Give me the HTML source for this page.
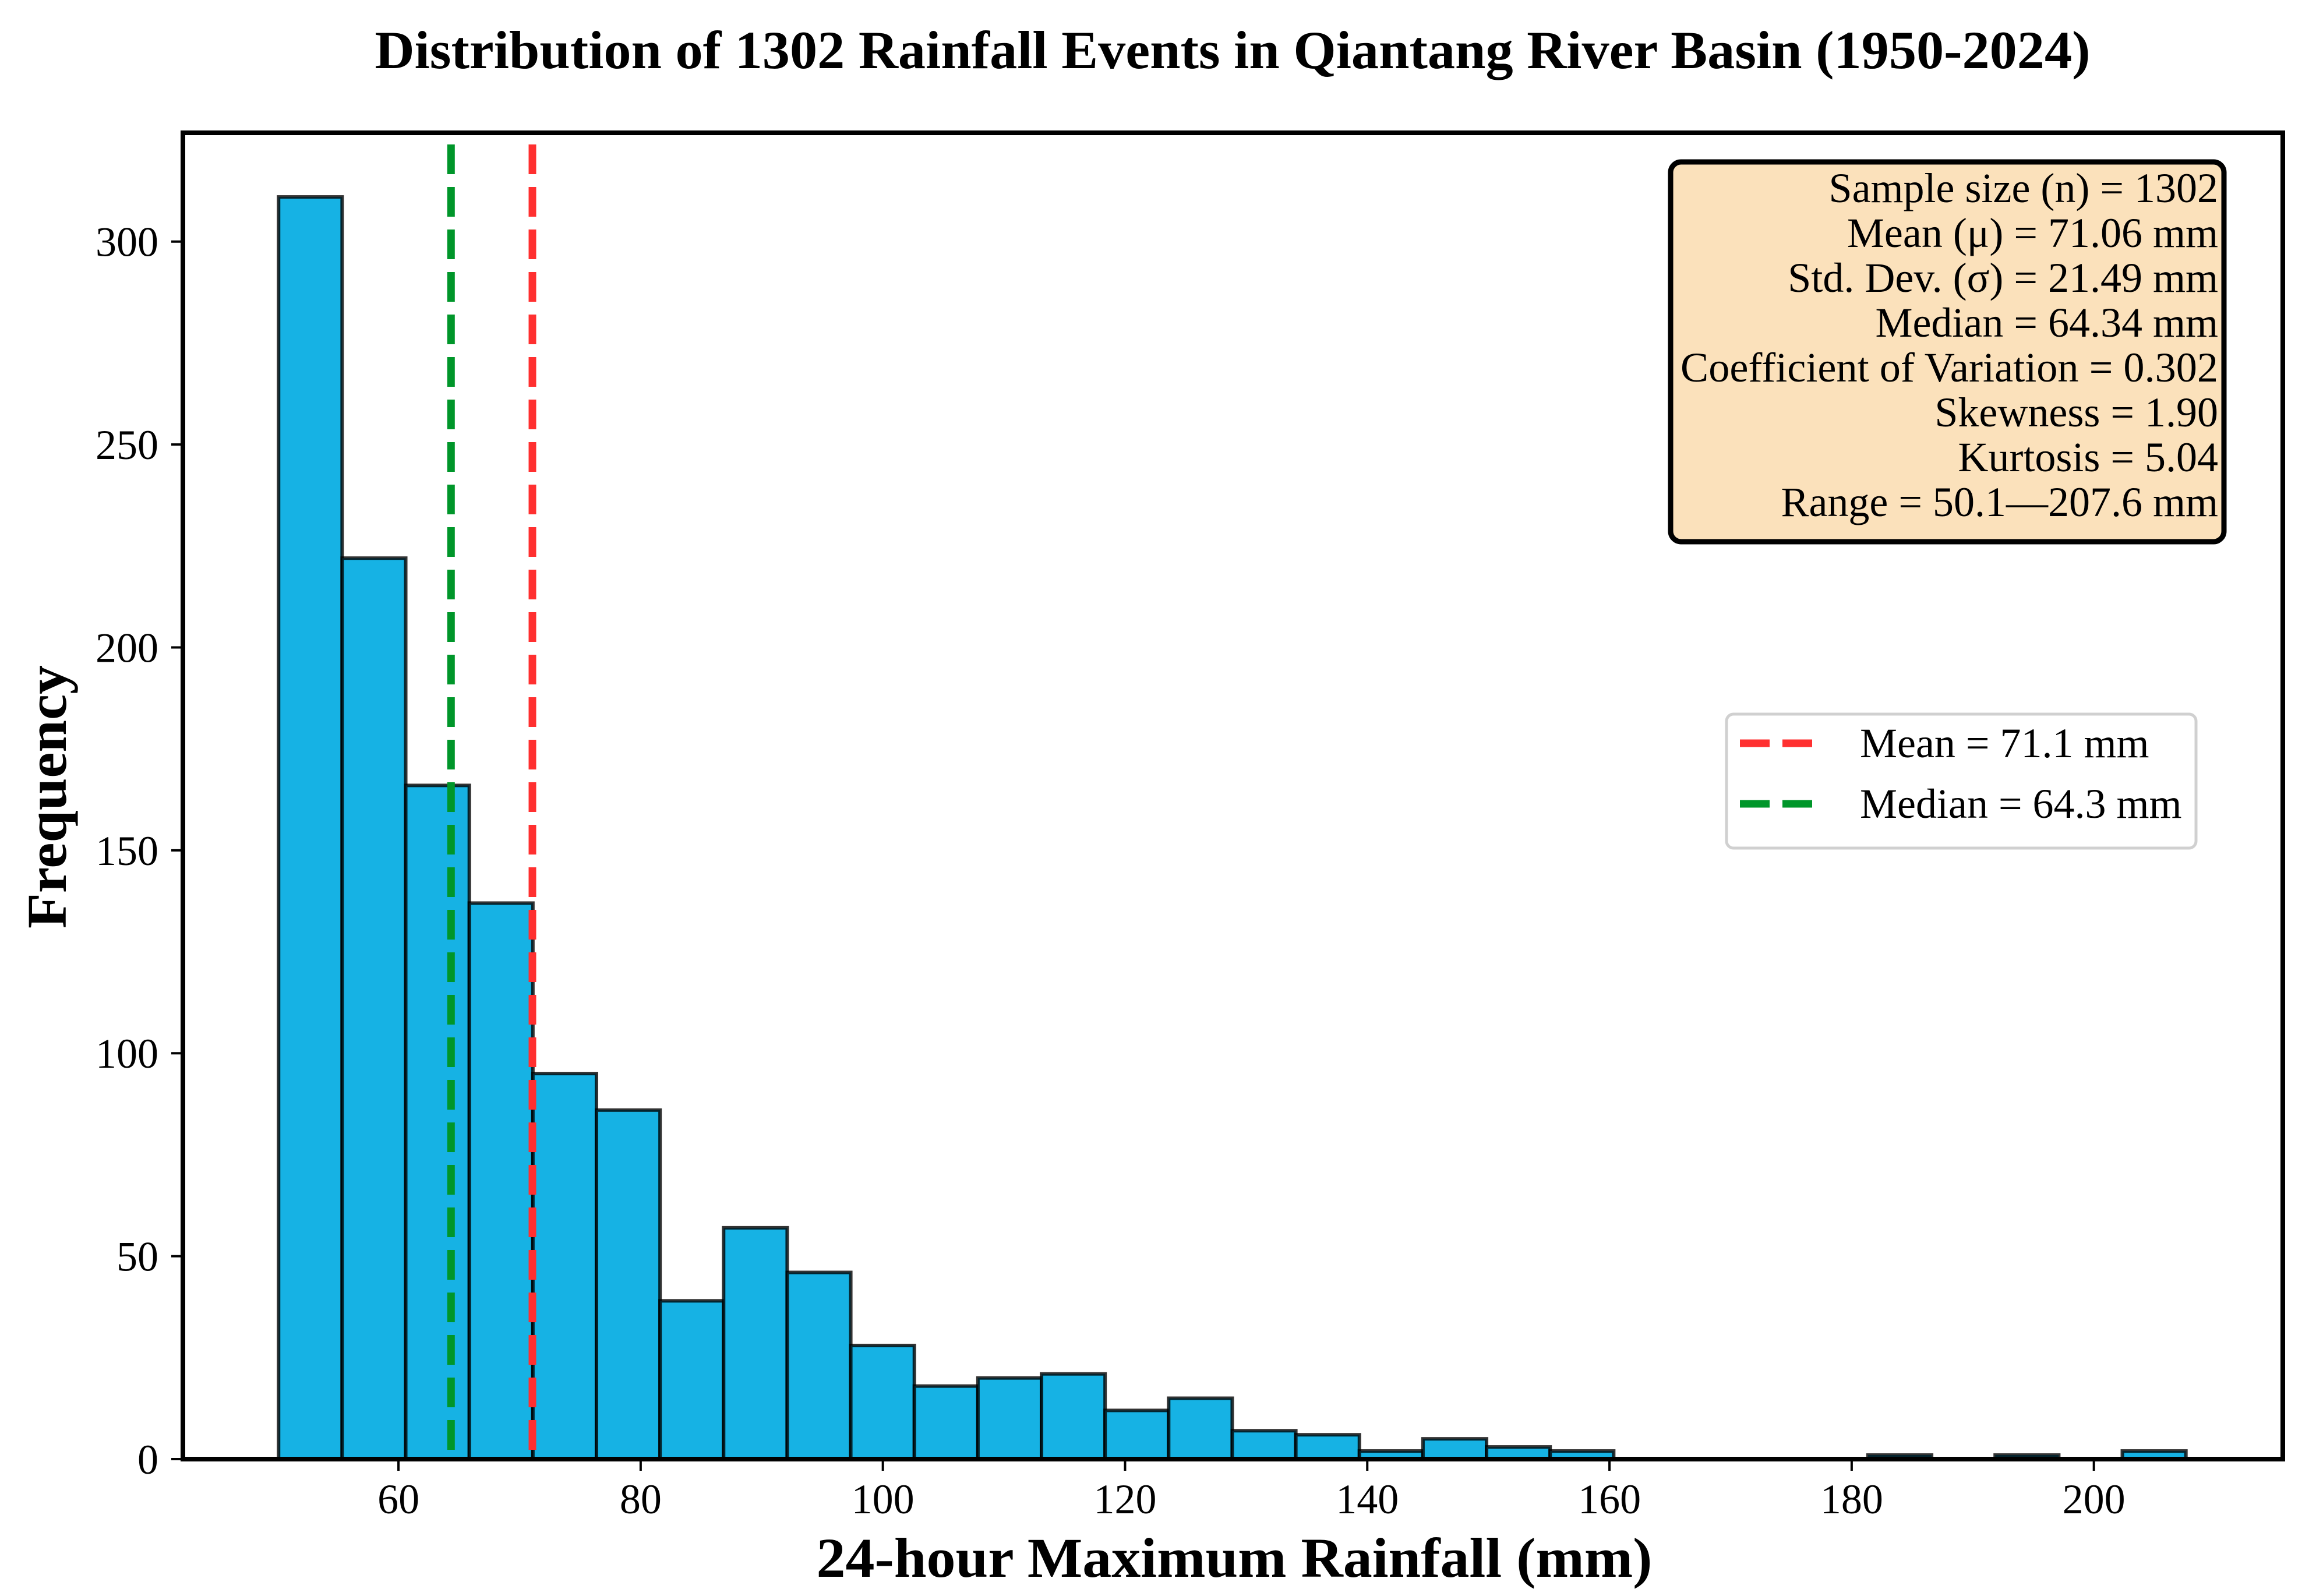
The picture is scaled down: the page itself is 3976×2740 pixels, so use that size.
<!DOCTYPE html>
<html><head><meta charset="utf-8"><style>
html,body{margin:0;padding:0;background:#fff}
svg{display:block}
text{font-family:"Liberation Serif",serif;fill:#000}
</style></head><body>
<svg id="chart" width="3976" height="2740" viewBox="0 0 3976 2740" xmlns="http://www.w3.org/2000/svg">
<rect width="3976" height="2740" fill="#fff"/>
<text x="2116" y="117" text-anchor="middle" font-size="92" font-weight="bold" textLength="2945" lengthAdjust="spacingAndGlyphs">Distribution of 1302 Rainfall Events in Qiantang River Basin (1950-2024)</text>
<g id="bars"></g>
<g id="vlines"></g>
<g id="axes"></g>
<text x="2119" y="2707" text-anchor="middle" font-size="96" font-weight="bold" textLength="1435" lengthAdjust="spacingAndGlyphs">24-hour Maximum Rainfall (mm)</text>
<text x="0" y="0" transform="translate(113,1368) rotate(-90)" text-anchor="middle" font-size="96" font-weight="bold" textLength="452" lengthAdjust="spacingAndGlyphs">Frequency</text>

<g>
<rect x="2868" y="278" width="950" height="652" rx="18" ry="18" fill="#fbe1bb" stroke="#000" stroke-width="9"/>
<g font-size="72" text-anchor="end">
<text x="3808" y="347">Sample size (n) = 1302</text>
<text x="3808" y="424">Mean (μ) = 71.06 mm</text>
<text x="3808" y="501">Std. Dev. (σ) = 21.49 mm</text>
<text x="3808" y="578">Median = 64.34 mm</text>
<text x="3808" y="655" textLength="923" lengthAdjust="spacingAndGlyphs">Coefficient of Variation = 0.302</text>
<text x="3808" y="732">Skewness = 1.90</text>
<text x="3808" y="809">Kurtosis = 5.04</text>
<text x="3808" y="886">Range = 50.1—207.6 mm</text>
</g>
</g>

<g>
<rect x="2964" y="1226" width="806" height="230" rx="12" ry="12" fill="#fff" stroke="#d0d0d0" stroke-width="5"/>
<line x1="2987" y1="1276" x2="3112" y2="1276" stroke="#ff3030" stroke-width="13" stroke-dasharray="51 22"/>
<text x="3193" y="1300" font-size="72">Mean = 71.1 mm</text>
<line x1="2987" y1="1380" x2="3112" y2="1380" stroke="#00962a" stroke-width="13" stroke-dasharray="51 22"/>
<text x="3193" y="1404" font-size="72">Median = 64.3 mm</text>
</g>
</svg>
<script>
const binStart = 50.1;
const binWidth = 5.25;
const counts = [311,222,166,137,95,86,39,57,46,28,18,20,21,12,15,7,6,2,5,3,2,0,0,0,0,1,0,1,0,2];
const xTicks = [60,80,100,120,140,160,180,200];
const yTicks = [0,50,100,150,200,250,300];
const meanValue = [71.06];
const medianValue = [64.34];

const L=314,R=3919,T=228,B=2505;
const xMin=42.2,xMax=215.6,yMax=326.8;
const NS="http://www.w3.org/2000/svg";
function sx(v){return L+(v-xMin)/(xMax-xMin)*(R-L);}
function sy(v){return B-v/yMax*(B-T);}
function mk(tag,attrs,parent){const e=document.createElementNS(NS,tag);for(const k in attrs)e.setAttribute(k,attrs[k]);parent.appendChild(e);return e;}

const gb=document.getElementById('bars');
counts.forEach((c,i)=>{
  if(c<=0)return;
  const x0=sx(binStart+i*binWidth),x1=sx(binStart+(i+1)*binWidth);
  const r=mk('rect',{x:x0,y:sy(c),width:x1-x0,height:B-sy(c),fill:'#16b2e4',stroke:'rgba(0,0,0,0.8)','stroke-width':6},gb);
  
  
});

const gv=document.getElementById('vlines');
const ml=mk('line',{x1:sx(medianValue[0]),x2:sx(medianValue[0]),y1:248,y2:B,stroke:'#00962a','stroke-width':13,'stroke-dasharray':'51 22'},gv);


const mn=mk('line',{x1:sx(meanValue[0]),x2:sx(meanValue[0]),y1:248,y2:B,stroke:'#ff3030','stroke-width':13,'stroke-dasharray':'51 22'},gv);



const ga=document.getElementById('axes');
const fr=mk('rect',{x:L,y:T,width:R-L,height:B-T,fill:'none',stroke:'#000','stroke-width':8},ga);


xTicks.forEach(v=>{
  const x=sx(v);
  const t=mk('line',{x1:x,x2:x,y1:B,y2:B+20,stroke:'#000','stroke-width':4},ga);
  
  
  const tx=mk('text',{x:x,y:2598,'text-anchor':'middle','font-size':72},ga);
  tx.textContent=v;
  
  
});
yTicks.forEach(v=>{
  const y=sy(v);
  const t=mk('line',{x1:L-20,x2:L,y1:y,y2:y,stroke:'#000','stroke-width':4},ga);
  
  
  const tx=mk('text',{x:272,y:y+25,'text-anchor':'end','font-size':72},ga);
  tx.textContent=v;
  
  
});
</script>
</body></html>
